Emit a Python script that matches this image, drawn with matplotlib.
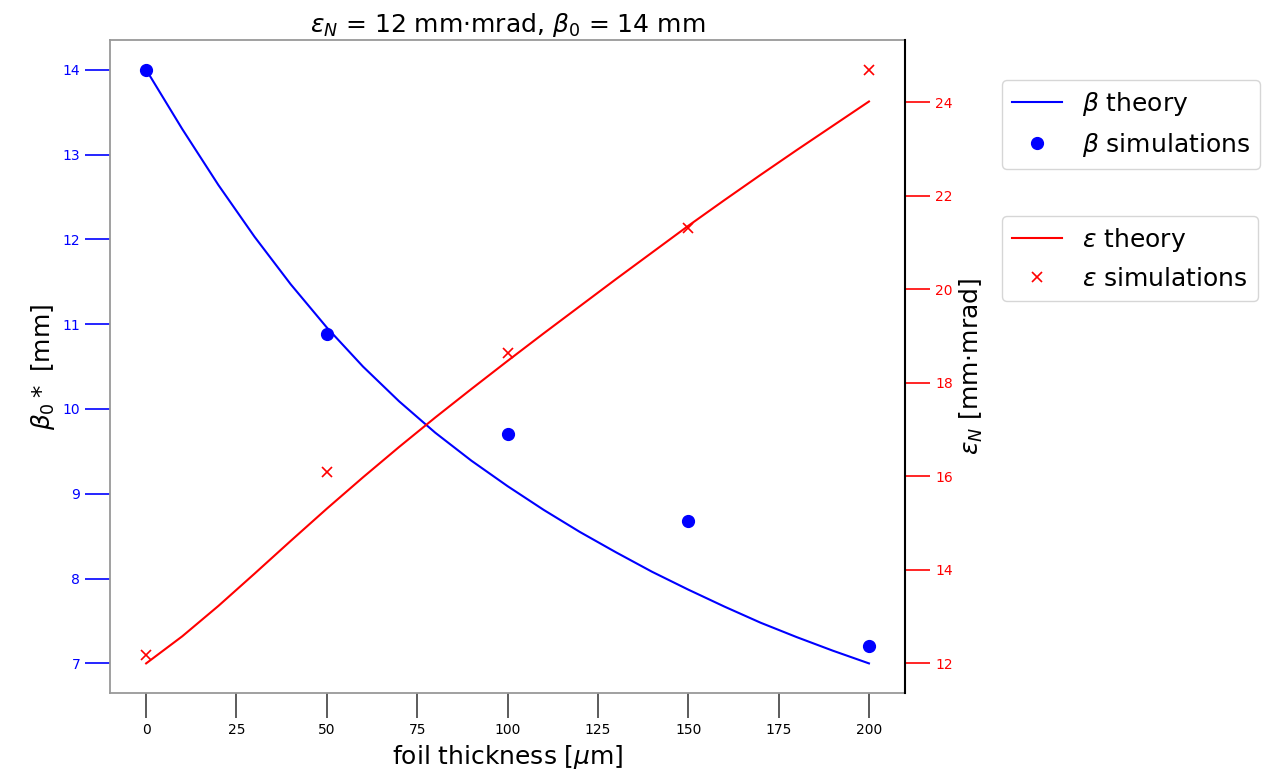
import numpy as np
import matplotlib
matplotlib.use("Agg")
import matplotlib.pyplot as plt

# foil thickness for theory curves [um]
t_theory = [0, 10, 20, 30, 40, 50, 60, 70, 80, 90, 100,
            110, 120, 130, 140, 150, 160, 170, 180, 190, 200]
beta_theory = [14.00, 13.30, 12.64, 12.03, 11.47, 10.96, 10.50, 10.09, 9.72, 9.39, 9.09,
               8.81, 8.55, 8.31, 8.08, 7.87, 7.67, 7.48, 7.31, 7.15, 7.00]
eps_theory = [12.00, 12.58, 13.23, 13.92, 14.62, 15.31, 15.98, 16.63, 17.26, 17.87, 18.47,
              19.06, 19.64, 20.22, 20.79, 21.36, 21.91, 22.45, 22.98, 23.50, 24.02]

# simulation results
t_sim = [0, 50, 100, 150, 200]
beta_sim = [14.00, 10.88, 9.71, 8.68, 7.21]
eps_sim = [12.19, 16.10, 18.64, 21.31, 24.70]

fig = plt.figure(figsize=(12.73, 7.77), dpi=100)
ax1 = fig.add_axes([0.0864, 0.108, 0.6246, 0.8405])
ax2 = ax1.twinx()

l1, = ax1.plot(t_theory, beta_theory, color='blue', lw=1.5, label=r'$\beta$ theory')
p1, = ax1.plot(t_sim, beta_sim, 'o', color='blue', ms=8.5, label=r'$\beta$ simulations')
l2, = ax2.plot(t_theory, eps_theory, color='red', lw=1.5, label=r'$\varepsilon$ theory')
p2, = ax2.plot(t_sim, eps_sim, 'x', color='red', ms=7, mew=1.2, label=r'$\varepsilon$ simulations')

ax1.set_xticks(np.arange(0, 201, 25))
ax1.set_xlabel(r'foil thickness [$\mu$m]', fontsize=18)
ax1.set_ylabel(r'$\beta_0*$ [mm]', fontsize=18)
ax2.set_ylabel(r'$\varepsilon_N$ [mm$\cdot$mrad]', fontsize=18)
ax1.set_title(r'$\varepsilon_N$ = 12 mm$\cdot$mrad, $\beta_0$ = 14 mm', fontsize=18, pad=6)

ax1.tick_params(axis='x', length=18, width=1.2, color='0.25', labelsize=10)
ax1.tick_params(axis='y', length=18, width=1.2, color='blue', labelcolor='blue', labelsize=10)
ax2.tick_params(axis='y', length=18, width=1.2, color='red', labelcolor='red', labelsize=10)

for s in ['left', 'top', 'bottom']:
    ax1.spines[s].set_color('0.6')
    ax1.spines[s].set_linewidth(1.3)
    ax2.spines[s].set_visible(False)
ax1.spines['right'].set_visible(False)
ax2.spines['right'].set_color('black')
ax2.spines['right'].set_linewidth(1.5)

fig.legend(handles=[l1, p1], loc='upper left', bbox_to_anchor=(0.787, 0.897),
           borderaxespad=0, fontsize=18)
fig.legend(handles=[l2, p2], loc='upper left', bbox_to_anchor=(0.787, 0.722),
           borderaxespad=0, fontsize=18)

fig.savefig('out.png', dpi=100)
